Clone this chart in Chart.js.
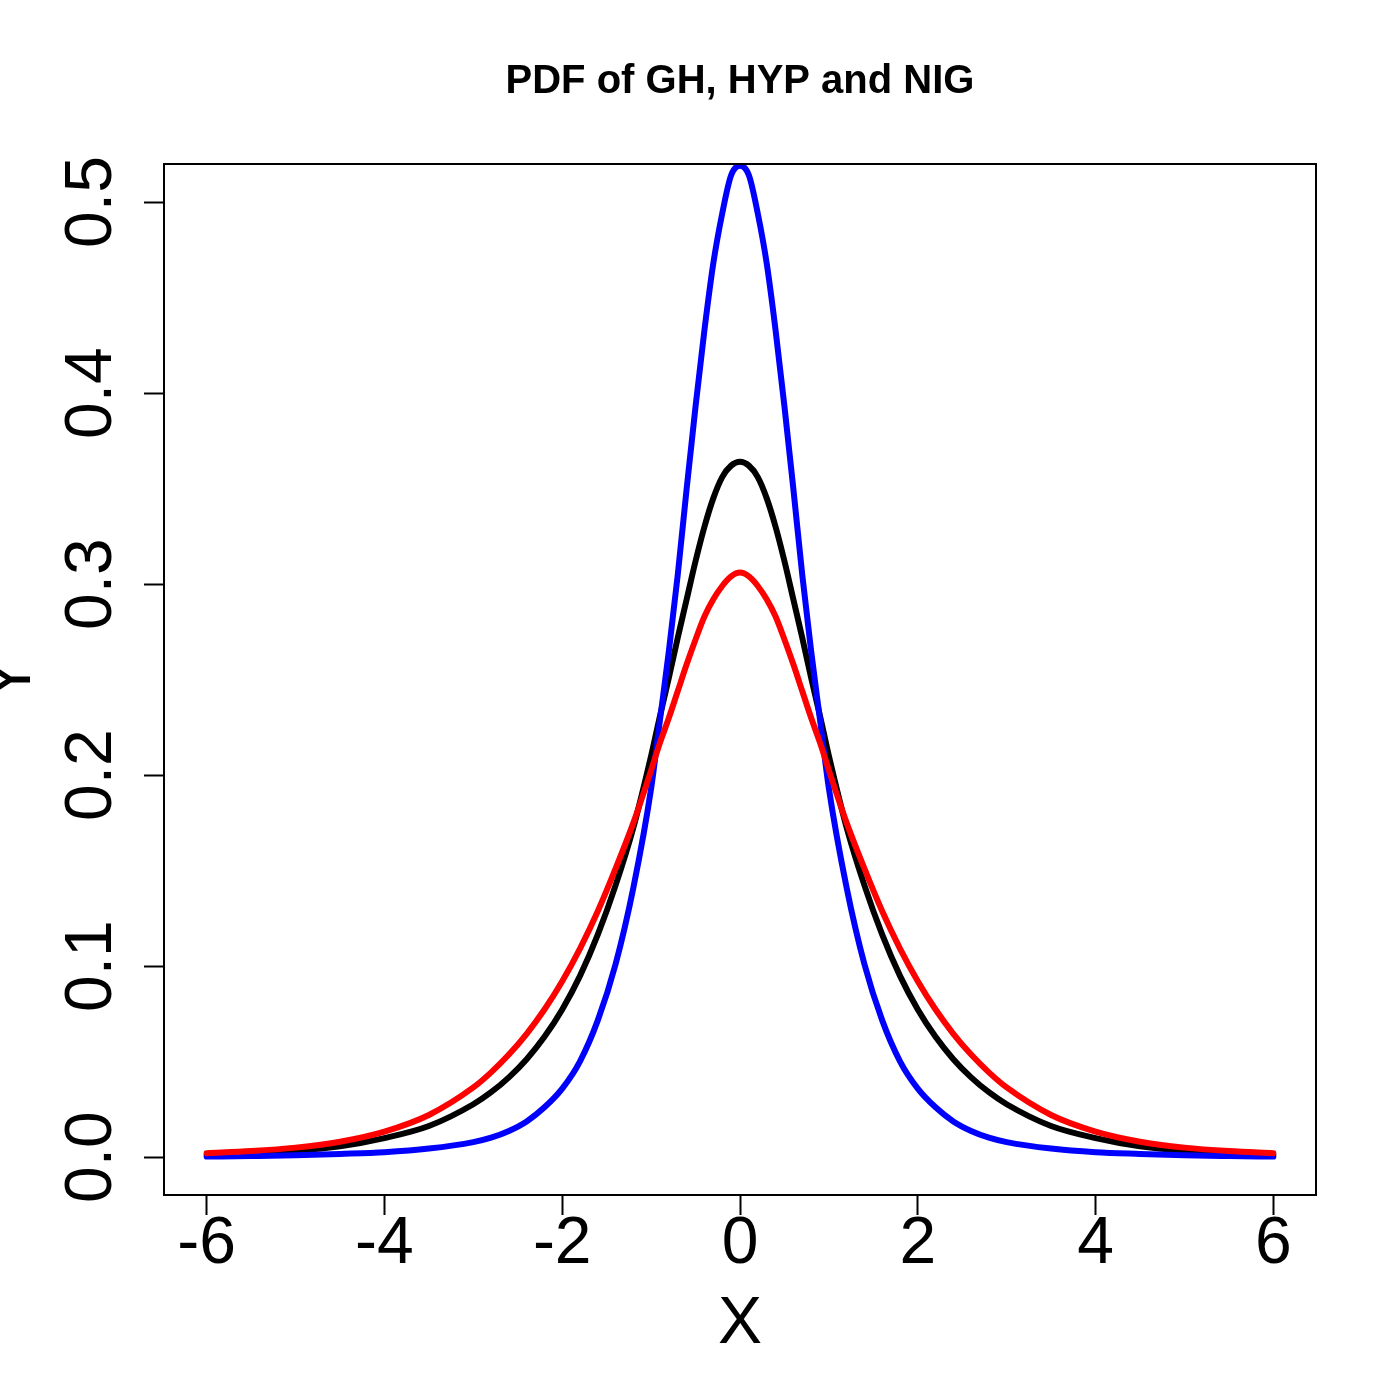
<!DOCTYPE html>
<html>
<head>
<meta charset="utf-8">
<title>PDF of GH, HYP and NIG</title>
<script src="https://cdn.jsdelivr.net/npm/chart.js@4.4.1/dist/chart.umd.min.js"></script>
<style>
    body { margin: 0; background: #ffffff; }
    #wrap { width: 1400px; height: 1400px; }
</style>
</head>
<body>
<div id="wrap"><canvas id="pdfGraph" width="1400" height="1400"></canvas></div>
<script>
"use strict";

// values
const x_values = [-6, -5.5, -5, -4.5, -4, -3.5, -3, -2.8, -2.6, -2.4, -2.2, -2, -1.8, -1.6, -1.4, -1.2,
    -1, -0.9, -0.8, -0.7, -0.6, -0.5, -0.4, -0.3, -0.2, -0.1,
    0, 0.1, 0.2, 0.3, 0.4, 0.5, 0.6, 0.7, 0.8, 0.9, 1,
    1.2, 1.4, 1.6, 1.8, 2, 2.2, 2.4, 2.6, 2.8, 3, 3.5, 4, 4.5, 5, 5.5, 6];

const gh_values = [0.0013, 0.0021, 0.0034, 0.0057, 0.0100, 0.0163, 0.0277, 0.0340, 0.0418, 0.0513, 0.0630, 0.0773, 0.0949, 0.1165, 0.1423, 0.1725,
    0.210, 0.231, 0.251, 0.272, 0.292, 0.312, 0.330, 0.345, 0.356, 0.362,
    0.364, 0.362, 0.356, 0.345, 0.330, 0.312, 0.292, 0.272, 0.251, 0.231, 0.210,
    0.1725, 0.1423, 0.1165, 0.0949, 0.0773, 0.0630, 0.0513, 0.0418, 0.0340, 0.0277, 0.0163, 0.0100, 0.0057, 0.0034, 0.0021, 0.0013];

const hyp_values = [0.0021, 0.0032, 0.0050, 0.0081, 0.0134, 0.0221, 0.0365, 0.0444, 0.0537, 0.0646, 0.0773, 0.0921, 0.1092, 0.1287, 0.151, 0.175,
    0.2025, 0.217, 0.230, 0.244, 0.258, 0.271, 0.283, 0.292, 0.299, 0.304,
    0.306, 0.304, 0.299, 0.292, 0.283, 0.271, 0.258, 0.244, 0.230, 0.217, 0.2025,
    0.175, 0.151, 0.1287, 0.1092, 0.0921, 0.0773, 0.0646, 0.0537, 0.0444, 0.0365, 0.0221, 0.0134, 0.0081, 0.0050, 0.0032, 0.0021];

const nig_values = [0.0003, 0.0006, 0.0010, 0.0017, 0.0026, 0.0045, 0.0079, 0.0102, 0.0137, 0.0187, 0.0261, 0.0359, 0.0502, 0.0716, 0.101, 0.141,
    0.193, 0.229, 0.265, 0.305, 0.350, 0.393, 0.433, 0.468, 0.494, 0.514,
    0.519, 0.514, 0.494, 0.468, 0.433, 0.393, 0.350, 0.305, 0.265, 0.229, 0.193,
    0.141, 0.101, 0.0716, 0.0502, 0.0359, 0.0261, 0.0187, 0.0137, 0.0102, 0.0079, 0.0045, 0.0026, 0.0017, 0.0010, 0.0006, 0.0003];

const x_ticks = [-6, -4, -2, 0, 2, 4, 6];
const y_ticks = [0, 0.1, 0.2, 0.3, 0.4, 0.5];

const font_family = "'Liberation Sans', Arial, Helvetica, sans-serif";

/**
 * @description pairs the x values with one series
 * @param {*} values
 * @returns
 */
function toPoints(values) {
    return x_values.map(function (x, i) {
        return { x: x, y: values[i] };
    });
}

function lineSet(label, values, color) {
    return {
        label: label,
        data: toPoints(values),
        borderColor: color,
        backgroundColor: color,
        borderWidth: 6,
        borderCapStyle: "round",
        borderJoinStyle: "round",
        cubicInterpolationMode: "monotone",
        pointRadius: 0,
        fill: false,
    };
}

// box round the plot area and the rotated y tick labels, R style
const boxPlugin = {
    id: "plotBox",
    afterDraw(chart) {
        const ctx = chart.ctx;
        const area = chart.chartArea;
        const yScale = chart.scales.y;
        ctx.save();
        ctx.strokeStyle = "#000000";
        ctx.lineWidth = 2;
        ctx.strokeRect(area.left, area.top, area.right - area.left, area.bottom - area.top);

        ctx.fillStyle = "#000000";
        ctx.font = "66px " + font_family;
        ctx.textAlign = "center";
        ctx.textBaseline = "middle";
        yScale.ticks.forEach(function (tick) {
            const py = yScale.getPixelForValue(tick.value);
            ctx.save();
            ctx.translate(93, py);
            ctx.rotate(-Math.PI / 2);
            ctx.fillText(tick.value.toFixed(1), 0, 0);
            ctx.restore();
        });
        ctx.restore();
    },
};

const config = {
    type: "line",
    data: {
        datasets: [
            lineSet("HYP", hyp_values, "#ff0000"),
            lineSet("NIG", nig_values, "#0000ff"),
            lineSet("GH", gh_values, "#000000"),
        ],
    },
    options: {
        responsive: false,
        animation: false,
        devicePixelRatio: 1,
        layout: {
            padding: { left: 0, right: 84, top: 0, bottom: 0 },
        },
        plugins: {
            legend: { display: false },
            tooltip: { enabled: false },
            title: {
                display: true,
                fullSize: false,
                text: "PDF of GH, HYP and NIG",
                color: "#000000",
                font: { family: font_family, size: 40, weight: "bold", lineHeight: 1.2 },
                padding: { top: 58, bottom: 58 },
            },
        },
        scales: {
            x: {
                type: "linear",
                min: -6.48,
                max: 6.48,
                afterBuildTicks: function (scale) {
                    scale.ticks = x_ticks.map(function (v) { return { value: v }; });
                },
                afterFit: function (scale) {
                    scale.height = 205;
                },
                border: { display: false },
                grid: {
                    display: true,
                    drawOnChartArea: false,
                    drawTicks: true,
                    tickLength: 20,
                    tickWidth: 2,
                    tickColor: "#000000",
                },
                ticks: {
                    color: "#000000",
                    padding: 0,
                    maxRotation: 0,
                    autoSkip: false,
                    font: { family: font_family, size: 66, lineHeight: 0.9 },
                    callback: function (value) {
                        return String(value);
                    },
                },
                title: {
                    display: true,
                    text: "X",
                    color: "#000000",
                    font: { family: font_family, size: 66, lineHeight: 1.2 },
                    padding: { top: 0, bottom: 36 },
                },
            },
            y: {
                type: "linear",
                min: -0.0198,
                max: 0.5199,
                afterBuildTicks: function (scale) {
                    scale.ticks = y_ticks.map(function (v) { return { value: v }; });
                },
                afterFit: function (scale) {
                    scale.width = 164;
                },
                border: { display: false },
                grid: {
                    display: true,
                    drawOnChartArea: false,
                    drawTicks: true,
                    tickLength: 20,
                    tickWidth: 2,
                    tickColor: "#000000",
                },
                ticks: {
                    display: false,
                },
                title: {
                    display: true,
                    text: "Y",
                    color: "#000000",
                    font: { family: font_family, size: 66, lineHeight: 0.36 },
                    padding: { top: 0, bottom: 0 },
                },
            },
        },
    },
    plugins: [boxPlugin],
};

let pdfChart = new Chart(document.getElementById("pdfGraph"), config);
</script>
</body>
</html>
